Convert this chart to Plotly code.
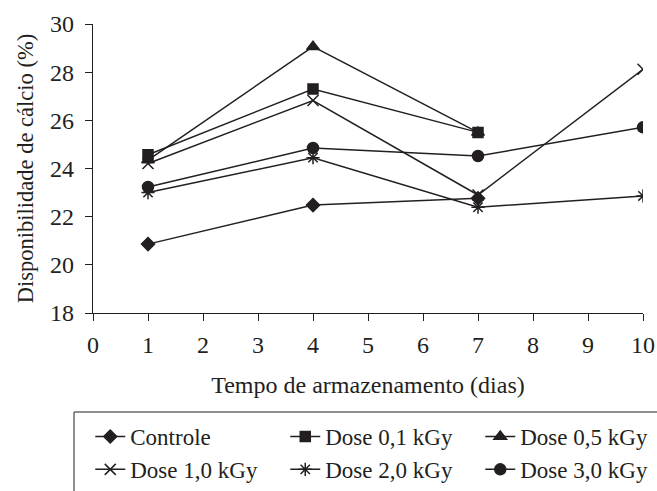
import plotly.graph_objects as go

days = [1, 4, 7, 10]
series_names = ["Controle", "Dose 0,1 kGy", "Dose 0,5 kGy", "Dose 1,0 kGy", "Dose 2,0 kGy", "Dose 3,0 kGy"]
controle = [20.86, 22.48, 22.76]
dose_01 = [24.57, 27.30, 25.50]
dose_05 = [24.35, 29.06, 25.50]
dose_10 = [24.21, 26.82, 22.90, 28.12]
dose_20 = [23.00, 24.45, 22.39, 22.86]
dose_30 = [23.23, 24.85, 24.52, 25.71]

series_values = [controle, dose_01, dose_05, dose_10, dose_20, dose_30]
symbols = ["diamond", "square", "triangle-up", "x-thin", "asterisk", "circle"]
sizes = [10, 10, 11, 11, 11, 11]

FONT = "Liberation Serif"
INK = "#231f20"
fig = go.Figure()
for name, vals, sym, sz in zip(series_names, series_values, symbols, sizes):
    fig.add_trace(go.Scatter(
        x=days[:len(vals)], y=vals, name=name, mode="lines+markers",
        line=dict(color=INK, width=1.5),
        marker=dict(symbol=sym, size=sz, color=INK,
                    line=dict(color=INK, width=1.5)),
    ))

fig.update_layout(
    width=657, height=491,
    margin=dict(l=93, r=14, t=24, b=178, autoexpand=False),
    paper_bgcolor="white", plot_bgcolor="white",
    font=dict(family=FONT, size=22, color=INK),
    showlegend=True,
    legend=dict(
        orientation="h", x=-0.005, xref="paper", y=-0.353, yref="paper",
        xanchor="left", yanchor="top",
        entrywidth=150, entrywidthmode="pixels",
        font=dict(family=FONT, size=23, color=INK),
        bgcolor="rgba(0,0,0,0)", borderwidth=0,
    ),
    shapes=[dict(type="rect", xref="paper", yref="paper",
                 x0=-0.0345, x1=1.1, y0=-0.3426, y1=-0.7,
                 line=dict(color=INK, width=1))],
)
fig.update_xaxes(
    range=[0, 10], tickmode="linear", tick0=0, dtick=1,
    showline=True, linecolor=INK, linewidth=1.2,
    ticks="outside", ticklen=7, tickcolor=INK,
    showgrid=False, zeroline=False,
    tickfont=dict(family=FONT, size=24, color=INK), ticklabelstandoff=3,
    title=dict(text="Tempo de armazenamento (dias)", standoff=19,
               font=dict(family=FONT, size=24, color=INK)),
)
fig.update_yaxes(
    range=[18, 30], tickmode="linear", tick0=18, dtick=2,
    showline=True, linecolor=INK, linewidth=1.2,
    ticks="outside", ticklen=7, tickcolor=INK,
    showgrid=False, zeroline=False,
    tickfont=dict(family=FONT, size=24, color=INK), ticklabelstandoff=6,
    title=dict(text="Disponibilidade de cálcio (%)", standoff=10,
               font=dict(family=FONT, size=22.5, color=INK)),
)
fig.write_html("out.html", config={"displayModeBar": False},
               post_script="document.body.style.margin='0';document.body.style.overflow='hidden';")
